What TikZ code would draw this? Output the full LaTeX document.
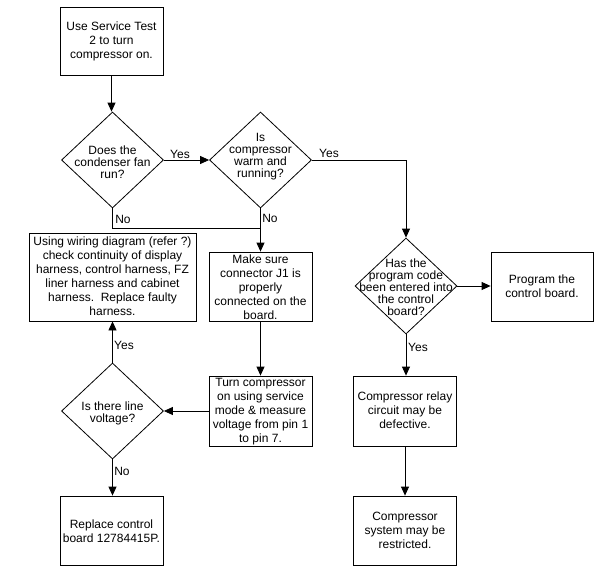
\documentclass[tikz,border=0pt]{standalone}
\usepackage{fontspec}
\setmainfont{Liberation Sans}
\usetikzlibrary{shapes.geometric,arrows.meta}
\tikzset{
  boxshape/.style={draw, line width=0.8pt, inner sep=0pt, minimum width=#1},
  diashape/.style={draw, diamond, line width=0.8pt, inner sep=0pt, minimum width=102pt, minimum height=96pt},
  txt/.style={align=center, inner sep=0pt, font=\fontsize{12}{14}\selectfont},
  dtxt/.style={align=center, inner sep=0pt, font=\fontsize{12}{12}\selectfont},
  lbl/.style={inner sep=0pt, font=\fontsize{12}{14}\selectfont},
  conn/.style={line width=0.8pt},
  arr/.style={line width=0.8pt, -{Triangle[length=9pt,width=8pt]}}
}
\begin{document}
\begin{tikzpicture}[x=1pt,y=-1pt]
\useasboundingbox[fill=white] (0,0) rectangle (602,578);
% boxes
\node[boxshape=103pt, minimum height=68pt] (b1) at (111.5,41) {};
\node[txt] (t1) at (b1) {Use Service Test\\2 to turn\\compressor on.};
\node[diashape] (d1) at (112.5,160) {};
\node[dtxt] (td1) at (112.5,162) {Does the\\condenser fan\\run?};
\node[diashape] (d2) at (260.5,160) {};
\node[dtxt] (td2) at (260.5,157) {Is\\compressor\\warm and\\running?};
\node[boxshape=103pt, minimum height=69pt] (j1) at (260.5,286.5) {};
\node[txt] (tj1) at (260.5,287) {Make sure\\connector J1 is\\properly\\connected on the\\board.};
\node[boxshape=167pt, minimum height=88pt] (us) at (112.5,277) {};
\node[txt] (tus) at (112.5,276) {Using wiring diagram (refer ?)\\check continuity of display\\harness, control harness, FZ\\liner harness and cabinet\\harness.\ \ Replace faulty\\harness.};
\node[diashape] (d3) at (406,286) {};
\node[dtxt] (td3) at (406,287) {Has the\\program code\\been entered into\\the control\\board?};
\node[boxshape=102pt, minimum height=69pt] (pr) at (542,286.5) {};
\node[txt] (tpr) at (pr) {Program the\\control board.};
\node[boxshape=103pt, minimum height=70pt] (tu) at (260.5,411) {};
\node[txt] (ttu) at (260.5,411.5) {Turn compressor\\on using service\\mode \& measure\\voltage from pin 1\\to pin 7.};
\node[diashape] (d4) at (112.5,411) {};
\node[dtxt] (td4) at (112.5,413.5) {Is there line\\voltage?};
\node[boxshape=103pt, minimum height=70pt] (re) at (405,411) {};
\node[txt] (tre) at (405,410.5) {Compressor relay\\circuit may be\\defective.};
\node[boxshape=103pt, minimum height=69pt] (sy) at (405,530.5) {};
\node[txt] (tsy) at (405,530) {Compressor\\system may be\\restricted.};
\node[boxshape=103pt, minimum height=69pt] (rp) at (111.5,530.5) {};
\node[txt] (trp) at (111.5,531) {Replace control\\board 12784415P.};
\coordinate (jn) at (260.5,228);
% connectors
\draw[arr] (b1.south) -- (b1.south |- d1.north);
\draw[arr] (d1.east) -- (d2.west);
\draw[conn] (d1.south) |- (jn);
\draw[arr] (d2.south) -- (j1.north);
\draw[arr] (d2.east) -| (d3.north);
\draw[arr] (d3.east) -- (pr.west |- d3.east);
\draw[arr] (d3.south) -- (d3.south |- re.north);
\draw[arr] (re.south) -- (sy.north);
\draw[arr] (j1.south) -- (tu.north);
\draw[arr] (tu.west) -- (d4.east);
\draw[arr] (d4.north) -- (us.south);
\draw[arr] (d4.south) -- (d4.south |- rp.north);
% labels
\node[lbl] (l1) at (180,154) {Yes};
\node[lbl] (l2) at (123,219) {No};
\node[lbl] (l3) at (270,218) {No};
\node[lbl] (l4) at (329,153) {Yes};
\node[lbl] (l5) at (418,347) {Yes};
\node[lbl] (l6) at (124,345) {Yes};
\node[lbl] (l7) at (122,471) {No};
\end{tikzpicture}
\end{document}
